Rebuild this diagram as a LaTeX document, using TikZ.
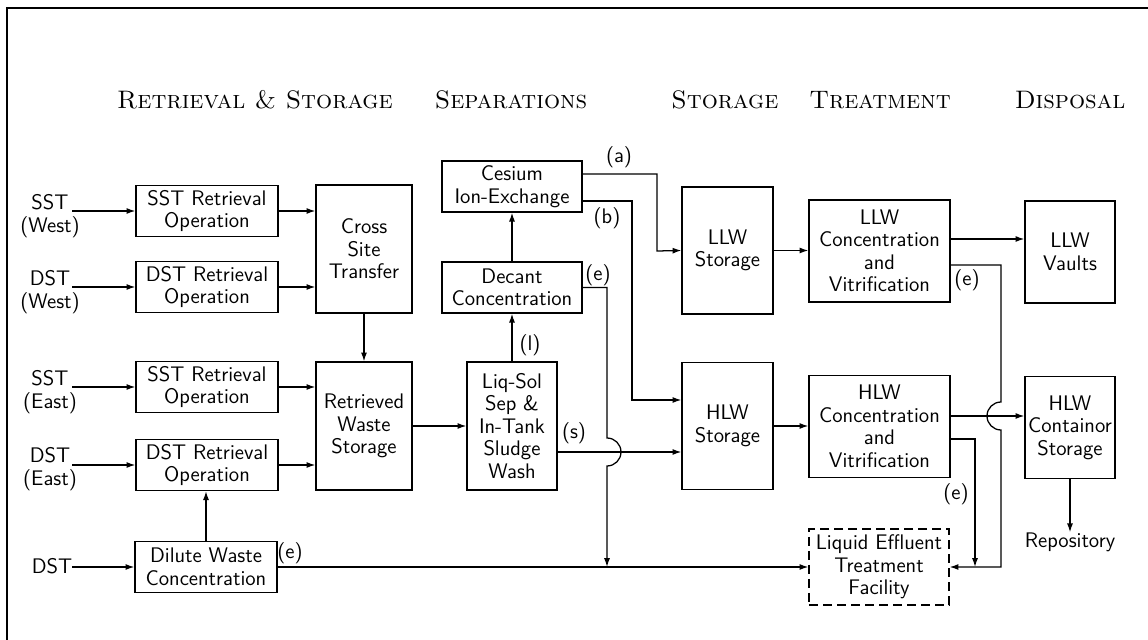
\documentclass[tikz,border=0pt]{standalone}
\usepackage{tikz}
\usetikzlibrary{arrows.meta, positioning, calc}

\begin{document}
\begin{tikzpicture}[
			x=0.25mm, y=-0.25mm,
			font=\sffamily\fontsize{15}{16}\selectfont,
			unit/.style={rectangle, draw, line width=0.9pt, align=center, inner sep=1pt},
			wide/.style={unit, minimum width=35.5mm, minimum height=12.8mm},
			tall/.style={unit, minimum width=24mm, minimum height=32mm},
			store/.style={unit, minimum width=22.75mm, minimum height=31.75mm},
			conc/.style={unit, minimum width=35.25mm, minimum height=25.5mm},
			final/.style={unit, minimum width=22.5mm, minimum height=25.5mm},
			effluent/.style={unit, dash pattern=on 2.2mm off 1.3mm, minimum width=35mm, minimum height=19mm},
			phase/.style={font=\rmfamily\scshape\fontsize{18}{20}\selectfont},
			source/.style={align=center, inner sep=0pt},
			tag/.style={inner sep=0pt},
			arrow/.style={-{Latex[length=2.2mm, width=1.5mm]}, line width=0.9pt},
			pipe/.style={line width=0.9pt}
		]
		\useasboundingbox (0,0) rectangle (1148,640);
		\draw[line width=0.8pt] (7,640) -- (7,8) -- (1148,8);
		
		% Phase headings
		\node[phase] (hretr) at (255,100) {Retrieval \& Storage};
		\node[phase] (hsep) at (511,100) {Separations};
		\node[phase] (hstor) at (725,100) {Storage};
		\node[phase] (htreat) at (880,100) {Treatment};
		\node[phase] (hdisp) at (1070,100) {Disposal};
		
		% Retrieval and storage
		\node[source] (srcsw) at (50,216) {SST\\(West)};
		\node[source] (srcdw) at (50,292) {DST\\(West)};
		\node[source] (srcse) at (50,392) {SST\\(East)};
		\node[source] (srcde) at (50,469) {DST\\(East)};
		\node[source] (srcd) at (52,566) {DST};
		\coordinate (insw) at (72,211);
		\coordinate (indw) at (72,287);
		\coordinate (inse) at (72,387);
		\coordinate (inde) at (72,465);
		\coordinate (ind) at (72,567);
		
		\node[wide] (sstw) at (207,211) {SST Retrieval\\Operation};
		\node[wide] (dstw) at (207,287) {DST Retrieval\\Operation};
		\node[wide] (sste) at (207,387) {SST Retrieval\\Operation};
		\node[wide] (dste) at (207,465) {DST Retrieval\\Operation};
		\node[wide] (dilute) at (206,567) {Dilute Waste\\Concentration};
		\node[tall] (cross) at (364,249) {Cross\\Site\\Transfer};
		\node[tall] (retr) at (364,426) {Retrieved\\Waste\\Storage};
		
		% Separations
		\node[wide, minimum width=35mm] (cesium) at (512,186.5) {Cesium\\Ion-Exchange};
		\node[wide, minimum width=35mm] (decant) at (512,287.5) {Decant\\Concentration};
		\node[tall, minimum width=22.5mm] (liqsol) at (512,426) {Liq-Sol\\Sep \&\\In-Tank\\Sludge\\Wash};
		
		% Storage, treatment, disposal
		\node[store] (llws) at (727.5,250.5) {LLW\\Storage};
		\node[store] (hlws) at (727.5,426) {HLW\\Storage};
		\node[conc] (llwc) at (879.5,251) {LLW\\Concentration\\and\\Vitrification};
		\node[conc] (hlwc) at (879.5,426.5) {HLW\\Concentration\\and\\Vitrification};
		\node[effluent] (effl) at (879,567) {Liquid Effluent\\Treatment\\Facility};
		\node[final] (vaults) at (1070,252) {LLW\\Vaults};
		\node[final] (hcont) at (1070,427.5) {HLW\\Containor\\Storage};
		\node[tag] (repo) at (1070,542) {Repository};
		
		\draw[arrow] (insw) -- (insw -| sstw.west);
		\draw[arrow] (indw) -- (indw -| dstw.west);
		\draw[arrow] (inse) -- (inse -| sste.west);
		\draw[arrow] (inde) -- (inde -| dste.west);
		\draw[arrow] (ind) -- (ind -| dilute.west);
		\draw[arrow] (sstw.east) -- (sstw.east -| cross.west);
		\draw[arrow] (dstw.east) -- (dstw.east -| cross.west);
		\draw[arrow] (cross.south) -- (retr.north);
		\draw[arrow] (sste.east) -- (sste.east -| retr.west);
		\draw[arrow] (dste.east) -- (dste.east -| retr.west);
		\draw[arrow] (dilute.north) -- (dilute.north |- dste.south);
		\draw[arrow] (retr.east) -- (retr.east -| liqsol.west);
		\draw[arrow] (liqsol.north) -- (decant.south);
		\draw[arrow] (decant.north) -- (cesium.south);
		\draw[arrow] ($(cesium.east)+(0,-12.5)$) -| (657,251) -- (llws.west);
		\draw[arrow] ($(cesium.east)+(0,14.5)$) -| (632,400) -- ($(hlws.west)+(0,-26)$);
		\draw[arrow] ($(liqsol.east)+(0,26)$) coordinate (sout) -- (sout -| hlws.west);
		\draw[arrow] (decant.east) -| (607,438) arc[start angle=-90, end angle=90, radius=14] -- (607,567);
		\draw[arrow] (dilute.east) -- (effl.west);
		\draw[arrow] (llws.east) -- (llws.east -| llwc.west);
		\draw[arrow] (hlws.east) -- (hlws.east -| hlwc.west);
		\draw[arrow] ($(llwc.east)+(0,-12)$) coordinate (lout) -- (lout -| vaults.west);
		\draw[arrow] ($(hlwc.east)+(0,-10.5)$) coordinate (hout) -- (hout -| hcont.west);
		\draw[arrow] ($(llwc.east)+(0,14)$) -| (1001,402) arc[start angle=-90, end angle=-270, radius=14] |- (effl.east);
		\draw[arrow] ($(hlwc.east)+(0,12.5)$) -| (975,567);
		\draw[arrow] (hcont.south) -- (repo.north);
		
		% Stream labels
		\node[tag] at (619,157) {(a)};
		\node[tag] at (607,218) {(b)};
		\node[tag] at (598,275) {(e)};
		\node[tag] at (530,345) {(l)};
		\node[tag] at (574,433) {(s)};
		\node[tag] at (967,280) {(e)};
		\node[tag] at (956,494) {(e)};
		\node[tag] at (290,553) {(e)};
		\end{tikzpicture}
\end{document}
